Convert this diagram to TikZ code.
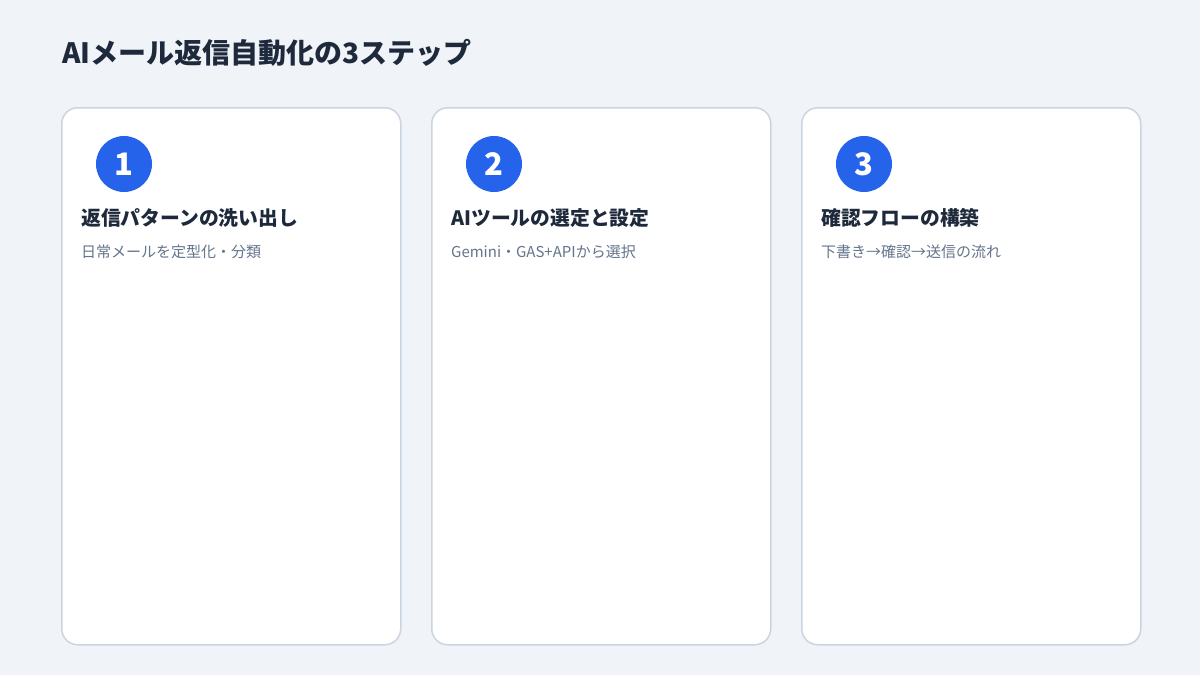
\documentclass[tikz,border=0pt]{standalone}
\usepackage{fontspec}
\setmainfont{Noto Sans CJK JP}
\usetikzlibrary{positioning}
\definecolor{bgcol}{HTML}{F0F4F9}
\definecolor{edgecol}{HTML}{CBD5E1}
\definecolor{stepblue}{HTML}{2563EB}
\definecolor{inkcol}{HTML}{1E293B}
\definecolor{greycol}{HTML}{64748B}

\begin{document}
\begin{tikzpicture}[x=1pt,y=-1pt,
  card/.style={draw=edgecol, line width=1.5pt, fill=white, rounded corners=16pt,
    minimum width=339pt, minimum height=537pt, anchor=north west, inner sep=0pt},
  numdot/.style={circle, fill=stepblue, text=white, minimum size=56pt, inner sep=0pt,
    font=\fontsize{31}{31}\selectfont\bfseries},
  headtxt/.style={anchor=west, inner sep=0pt, text=inkcol, font=\fontsize{19.8}{24}\selectfont\bfseries},
  subtxt/.style={anchor=west, inner sep=0pt, text=greycol, font=\fontsize{15}{18}\selectfont}]

%background
\fill[bgcol] (0,0) rectangle (1200,675);

%title
\node[anchor=west, inner sep=0pt, text=inkcol, font=\fontsize{28}{34}\selectfont\bfseries]
  (title) at (62,53) {AIメール返信自動化の3ステップ};

%cards
\foreach \i/\x/\head/\sub in {1/61/返信パターンの洗い出し/日常メールを定型化・分類,
    2/431/AIツールの選定と設定/Gemini・GAS+APIから選択,
    3/801/確認フローの構築/下書き→確認→送信の流れ} {
  \node[card] (card\i) at (\x,107) {};
  \node[numdot] (num\i) at (\x+63,164) {\i};
  \node[headtxt] (head\i) at (\x+20,218) {\head};
  \node[subtxt] (sub\i) at (\x+20,252) {\sub};
}
\end{tikzpicture}
\end{document}
